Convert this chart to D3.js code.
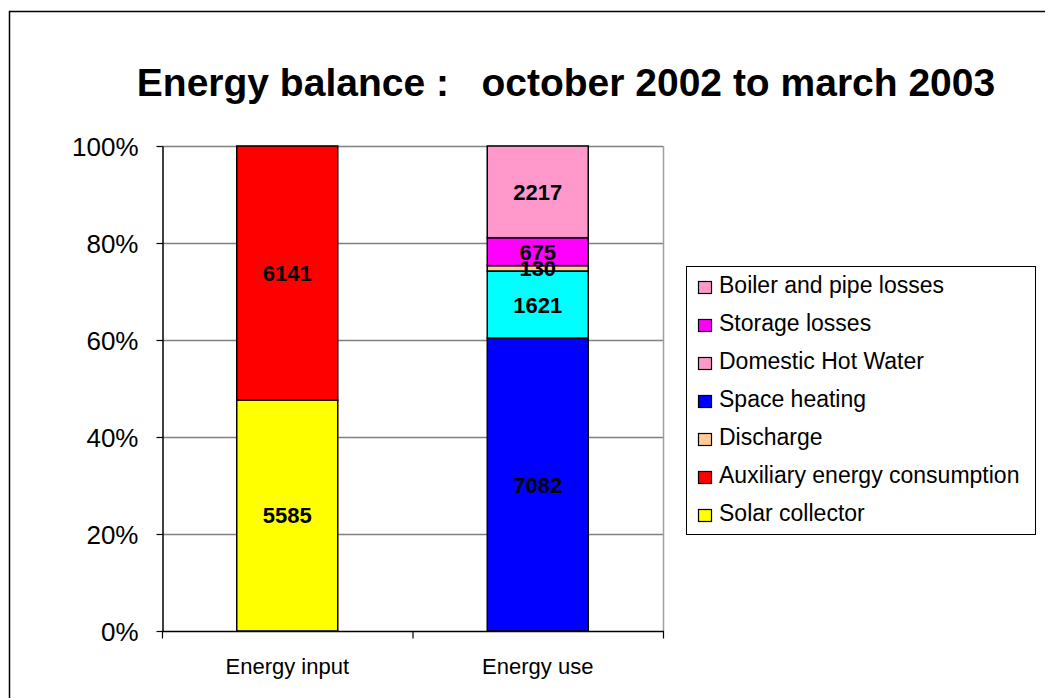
<!DOCTYPE html>
<html>
<head>
<meta charset="utf-8">
<script src="https://cdn.jsdelivr.net/npm/d3@7"></script>
<style>
  body { margin: 0; background: #fff; overflow: hidden; }
  text { font-family: Arial, "Liberation Sans", sans-serif; }
</style>
</head>
<body>
<script>
// categories and series (stacking order, bottom to top)
var categories = ["Energy input", "Energy use"];
var seriesNames = ["Solar collector", "Auxiliary energy consumption", "Space heating",
                   "Domestic Hot Water", "Discharge", "Storage losses", "Boiler and pipe losses"];
var inputValues = [5585, 6141, 0, 0, 0, 0, 0];
var useValues   = [0, 0, 7082, 1621, 130, 675, 2217];
var barColors   = ["#FFFF00", "#FF0000", "#0000FF", "#00FFFF", "#FFCC99", "#FF00FF", "#FF99CC"];

// legend as drawn in the original (top to bottom)
var legendNames  = ["Boiler and pipe losses", "Storage losses", "Domestic Hot Water",
                    "Space heating", "Discharge", "Auxiliary energy consumption", "Solar collector"];
var legendColors = ["#FF99CC", "#FF00FF", "#FF99CC", "#0000FF", "#FFCC99", "#FF0000", "#FFFF00"];

var yTicks = [0, 0.2, 0.4, 0.6, 0.8, 1];

var width = 1045, height = 698;
var plotL = 162, plotR = 663, plotT = 146, plotB = 631;

var svg = d3.select('body').append('svg')
    .attr('width', width)
    .attr('height', height);

// outer chart border (right/bottom lie outside the picture)
svg.append('rect')
    .attr('x', 9.5).attr('y', 11.5)
    .attr('width', 1100).attr('height', 800)
    .attr('fill', 'none').attr('stroke', '#000').attr('stroke-width', 1.5);

svg.append('text')
    .attr('x', 566).attr('y', 96)
    .attr('text-anchor', 'middle')
    .attr('font-size', 39).attr('font-weight', 'bold')
    .style('white-space', 'pre')
    .text("Energy balance :   october 2002 to march 2003");

var x = d3.scaleBand().domain(categories).range([plotL, plotR]);
var y = d3.scaleLinear().domain([0, 1]).range([plotB, plotT]);

// gridlines
svg.append('g').selectAll('line')
    .data(yTicks.filter(function (d) { return d > 0; }))
    .enter().append('line')
        .attr('x1', plotL).attr('x2', plotR)
        .attr('y1', function (d) { return y(d) + 0.5; })
        .attr('y2', function (d) { return y(d) + 0.5; })
        .attr('stroke', '#808080').attr('stroke-width', 1.5);

svg.append('line')
    .attr('x1', plotR + 0.5).attr('x2', plotR + 0.5)
    .attr('y1', plotT).attr('y2', plotB)
    .attr('stroke', '#a0a0a0').attr('stroke-width', 1.5);

// stack rows
var rows = categories.map(function (c, i) {
    var vals = i === 0 ? inputValues : useValues;
    var row = { cat: c };
    seriesNames.forEach(function (s, k) { row[s] = vals[k]; });
    return row;
});
var stack = d3.stack().keys(seriesNames).offset(d3.stackOffsetExpand);
var layers = stack(rows);

var barW = 101;
var g = svg.append('g');
layers.forEach(function (layer, k) {
    layer.forEach(function (d) {
        if (d.data[layer.key] <= 0) return;
        var cx = x(d.data.cat) + x.bandwidth() / 2;
        g.append('rect')
            .attr('x', cx - barW / 2)
            .attr('y', y(d[1]))
            .attr('width', barW)
            .attr('height', y(d[0]) - y(d[1]))
            .attr('fill', barColors[k])
            .attr('stroke', '#000').attr('stroke-width', 1.5);
    });
});
layers.forEach(function (layer, k) {
    layer.forEach(function (d) {
        if (d.data[layer.key] <= 0) return;
        var cx = x(d.data.cat) + x.bandwidth() / 2;
        g.append('text')
            .attr('x', cx)
            .attr('y', (y(d[0]) + y(d[1])) / 2 + 8)
            .attr('text-anchor', 'middle')
            .attr('font-size', 22).attr('font-weight', 'bold')
            .text(d.data[layer.key]);
    });
});

// axes
var yAxis = svg.append('g')
    .attr('transform', 'translate(' + (plotL + 0.5) + ',0)')
    .call(d3.axisLeft(y).tickValues(yTicks).tickFormat(d3.format('.0%')).tickSize(6).tickSizeOuter(0));
yAxis.select('.domain').attr('stroke', '#000').attr('stroke-width', 1.5);
yAxis.selectAll('.tick line').attr('stroke', '#000').attr('stroke-width', 1.2);
yAxis.selectAll('.tick text').attr('font-size', 26).attr('x', -24).attr('dy', '0.35em').attr('fill', '#000')
    .style('font-family', 'Arial, "Liberation Sans", sans-serif');

var xAxis = svg.append('g')
    .attr('transform', 'translate(0,' + (plotB + 0.5) + ')');
xAxis.append('line')
    .attr('x1', plotL).attr('x2', plotR + 1)
    .attr('stroke', '#000').attr('stroke-width', 1.5);
xAxis.selectAll('line.tk')
    .data([plotL, x('Energy use'), plotR])
    .enter().append('line').attr('class', 'tk')
        .attr('x1', function (d) { return d + 0.5; }).attr('x2', function (d) { return d + 0.5; })
        .attr('y1', 0).attr('y2', 7)
        .attr('stroke', '#000').attr('stroke-width', 1.2);
xAxis.selectAll('text')
    .data(categories)
    .enter().append('text')
        .attr('x', function (d) { return x(d) + x.bandwidth() / 2; })
        .attr('y', 42)
        .attr('text-anchor', 'middle')
        .attr('font-size', 22)
        .text(function (d) { return d; });

// legend
var lg = svg.append('g');
lg.append('rect')
    .attr('x', 686.5).attr('y', 266.5)
    .attr('width', 349).attr('height', 268)
    .attr('fill', '#fff').attr('stroke', '#000').attr('stroke-width', 1);
var items = lg.selectAll('g.item')
    .data(legendNames)
    .enter().append('g').attr('class', 'item')
        .attr('transform', function (d, i) { return 'translate(0,' + (285 + i * 38) + ')'; });
items.append('rect')
    .attr('x', 698.5).attr('y', -3.5)
    .attr('width', 13).attr('height', 12)
    .attr('fill', function (d, i) { return legendColors[i]; })
    .attr('stroke', '#000').attr('stroke-width', 1.2);
items.append('text')
    .attr('x', 719).attr('y', 8)
    .attr('font-size', 23)
    .text(function (d) { return d; });
</script>
</body>
</html>
